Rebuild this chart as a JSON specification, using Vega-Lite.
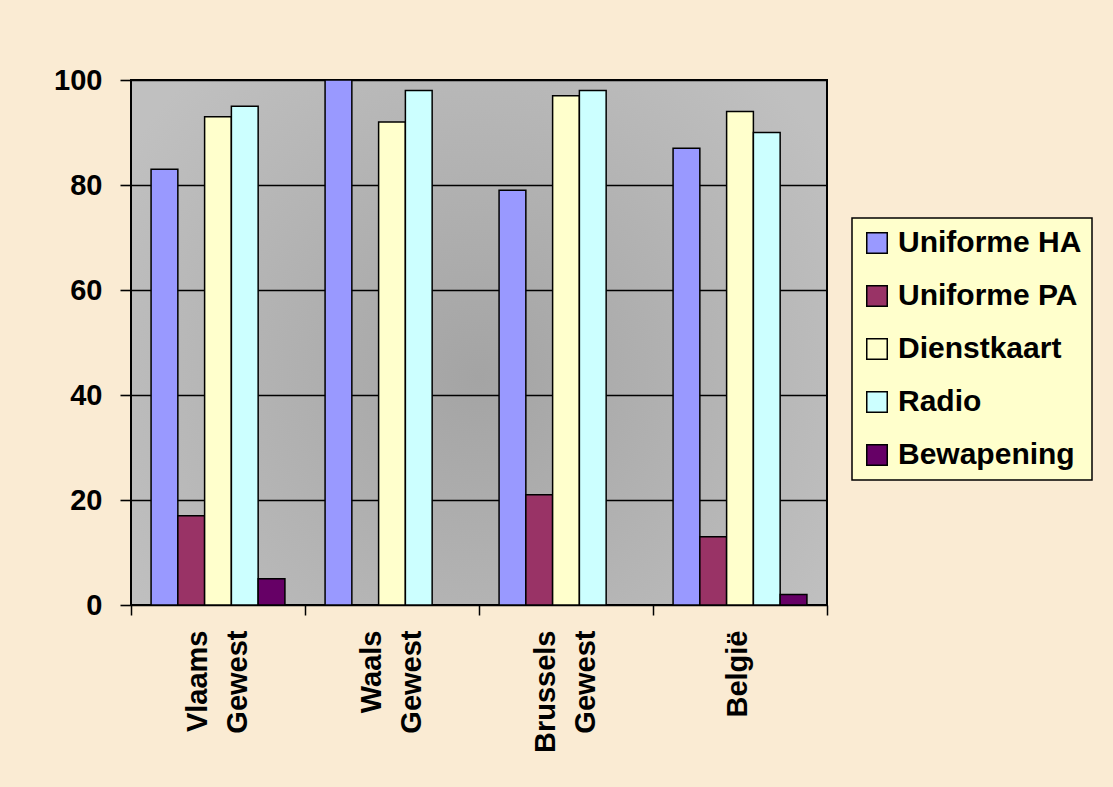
{
  "$schema": "https://vega.github.io/schema/vega-lite/v6.json",
  "autosize": {"type": "none"},
  "padding": {"left": 131, "top": 80, "right": 286, "bottom": 182},
  "width": 696,
  "height": 525,
  "background": "#FAEBD3",
  "data": {
    "values": [
      {"regio": "Vlaams Gewest", "item": "Uniforme HA", "pct": 83},
      {"regio": "Vlaams Gewest", "item": "Uniforme PA", "pct": 17},
      {"regio": "Vlaams Gewest", "item": "Dienstkaart", "pct": 93},
      {"regio": "Vlaams Gewest", "item": "Radio", "pct": 95},
      {"regio": "Vlaams Gewest", "item": "Bewapening", "pct": 5},
      {"regio": "Waals Gewest", "item": "Uniforme HA", "pct": 100},
      {"regio": "Waals Gewest", "item": "Uniforme PA", "pct": 0},
      {"regio": "Waals Gewest", "item": "Dienstkaart", "pct": 92},
      {"regio": "Waals Gewest", "item": "Radio", "pct": 98},
      {"regio": "Waals Gewest", "item": "Bewapening", "pct": 0},
      {"regio": "Brussels Gewest", "item": "Uniforme HA", "pct": 79},
      {"regio": "Brussels Gewest", "item": "Uniforme PA", "pct": 21},
      {"regio": "Brussels Gewest", "item": "Dienstkaart", "pct": 97},
      {"regio": "Brussels Gewest", "item": "Radio", "pct": 98},
      {"regio": "Brussels Gewest", "item": "Bewapening", "pct": 0},
      {"regio": "België", "item": "Uniforme HA", "pct": 87},
      {"regio": "België", "item": "Uniforme PA", "pct": 13},
      {"regio": "België", "item": "Dienstkaart", "pct": 94},
      {"regio": "België", "item": "Radio", "pct": 90},
      {"regio": "België", "item": "Bewapening", "pct": 2}
    ]
  },
  "mark": {"type": "bar", "stroke": "#000000", "strokeWidth": 1.5},
  "encoding": {
    "x": {
      "field": "regio",
      "type": "nominal",
      "sort": ["Vlaams Gewest", "Waals Gewest", "Brussels Gewest", "België"],
      "scale": {"paddingInner": 0, "paddingOuter": 0},
      "axis": {
        "title": null,
        "domain": false,
        "tickBand": "extent",
        "tickSize": 10,
        "tickWidth": 1.5,
        "tickColor": "#000000",
        "labelAngle": -90,
        "labelAlign": "right",
        "labelBaseline": "middle",
        "labelPadding": 15,
        "labelLineHeight": 40,
        "labelExpr": "split(datum.label, ' ')",
        "labelOffset": {"condition": {"test": "indexof(datum.label, ' ') > 0", "value": -21}, "value": -3},
        "labelFont": "Liberation Sans",
        "labelFontWeight": "bold",
        "labelFontSize": 29,
        "labelColor": "#000000"
      }
    },
    "xOffset": {
      "field": "item",
      "type": "nominal",
      "sort": ["Uniforme HA", "Uniforme PA", "Dienstkaart", "Radio", "Bewapening"],
      "scale": {"paddingInner": 0, "paddingOuter": 0.75}
    },
    "y": {
      "field": "pct",
      "type": "quantitative",
      "scale": {"domain": [0, 100], "nice": false},
      "axis": {
        "title": null,
        "domain": false,
        "values": [0, 20, 40, 60, 80, 100],
        "grid": true,
        "gridColor": "#000000",
        "gridWidth": 1.6,
        "gridOpacity": 1,
        "tickSize": 11,
        "tickWidth": 1.6,
        "tickColor": "#000000",
        "labelPadding": 18,
        "labelFont": "Liberation Sans",
        "labelFontWeight": "bold",
        "labelFontSize": 29,
        "labelColor": "#000000"
      }
    },
    "color": {
      "field": "item",
      "type": "nominal",
      "scale": {
        "domain": ["Uniforme HA", "Uniforme PA", "Dienstkaart", "Radio", "Bewapening"],
        "range": ["#9999FF", "#993366", "#FFFFCC", "#CCFFFF", "#660066"]
      },
      "legend": {
        "title": null,
        "orient": "none",
        "legendX": 721,
        "legendY": 138,
        "fillColor": "#FFFFCC",
        "strokeColor": "#000000",
        "padding": 10,
        "rowPadding": 23,
        "symbolType": "square",
        "symbolSize": 420,
        "symbolStrokeColor": "#000000",
        "symbolStrokeWidth": 1.5,
        "symbolOpacity": 1,
        "labelOffset": 6,
        "labelFont": "Liberation Sans",
        "labelFontWeight": "bold",
        "labelFontSize": 30,
        "labelColor": "#000000",
        "labelLimit": 300
      }
    }
  },
  "config": {
    "legend": {"strokeWidth": 1.5},
    "view": {
      "stroke": "#000000",
      "strokeWidth": 2,
      "fill": {
        "gradient": "radial",
        "x1": 0.5, "y1": 0.55, "r1": 0,
        "x2": 0.5, "y2": 0.55, "r2": 0.6,
        "stops": [
          {"offset": 0, "color": "#A4A4A4"},
          {"offset": 1, "color": "#C0C0C0"}
        ]
      }
    }
  }
}
